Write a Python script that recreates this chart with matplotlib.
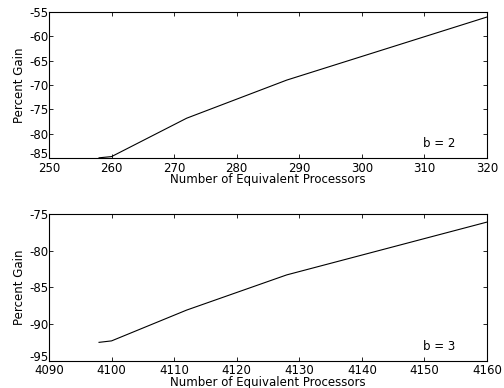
import numpy as np
import matplotlib
matplotlib.use("Agg")
import matplotlib.pyplot as plt

plt.rcParams["font.family"] = ["DejaVu Sans"]
plt.rcParams["font.size"] = 8.5
plt.rcParams["axes.unicode_minus"] = False

# b = 2 curve
procs_b2 = [258, 260, 272, 288, 320]
gain_b2 = [-84.9, -84.65, -76.8, -69.0, -56.1]

# b = 3 curve
procs_b3 = [4098, 4100, 4112, 4128, 4160]
gain_b3 = [-92.5, -92.3, -88.1, -83.3, -76.1]

fig = plt.figure(figsize=(5.04, 3.88), dpi=100)
ax1 = fig.add_axes([0.0972, 0.592, 0.869, 0.378])
ax2 = fig.add_axes([0.0972, 0.0704, 0.869, 0.378])

panels = [
    (ax1, procs_b2, gain_b2, (250, 320), (-85, -55), np.arange(250, 321, 10), np.arange(-85, -54, 5), "b = 2"),
    (ax2, procs_b3, gain_b3, (4090, 4160), (-95, -75), np.arange(4090, 4161, 10), np.arange(-95, -74, 5), "b = 3"),
]

for ax, x, y, xl, yl, xt, yt, lab in panels:
    ax.plot(x, y, color="black", linewidth=0.8)
    ax.set_xlim(*xl)
    ax.set_ylim(*yl)
    ax.set_xticks(xt)
    ax.set_yticks(yt)
    ax.tick_params(direction="in", top=True, right=True, length=3, width=0.6, labelsize=8.5)
    ax.tick_params(axis="x", pad=2.5)
    ax.tick_params(axis="y", pad=0.5)
    for s in ax.spines.values():
        s.set_linewidth(0.8)
    # lowest y label sits on its tick, as in the original
    ax.get_yticklabels()[0].set_va("baseline")
    ax.set_xlabel("Number of Equivalent Processors", labelpad=-1)
    ax.set_ylabel("Percent Gain", labelpad=2)
    ax.text(0.855, 0.075, lab, transform=ax.transAxes, fontsize=8.5)

fig.savefig("out.png", dpi=100)
